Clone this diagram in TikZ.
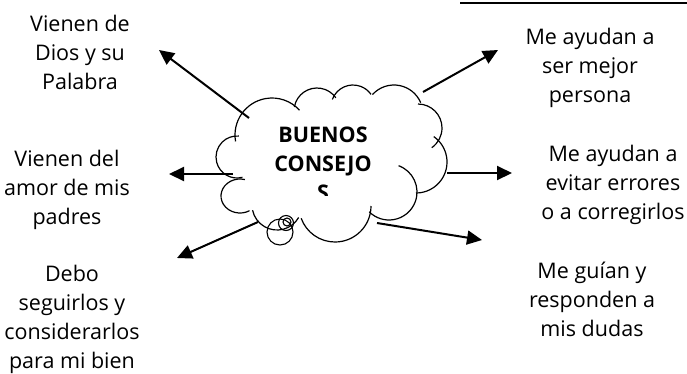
\documentclass[tikz,border=0pt]{standalone}
\usepackage{fontspec}
\setmainfont{Open Sans}
\usetikzlibrary{arrows.meta}
\begin{document}
\begin{tikzpicture}[x=1pt,y=-1pt,
  lbl/.style={align=center,inner sep=0pt,font=\fontsize{21.5}{29}\selectfont},
  arr/.style={line width=2pt,-{Triangle[length=15pt,width=14pt]}},
  puff/.style={line width=1.2pt}]
\useasboundingbox (0,0) rectangle (687,373);
% top rule
\coordinate (r1) at (460,3);
\coordinate (r2) at (687,3);
\draw[line width=2.5pt] (r1) -- (r2);
% cloud bumps
\draw[puff] (272,135) ++(170:37) arc[start angle=170,end angle=318,radius=37];
\draw[puff] (317,111) ++(190:23) arc[start angle=190,end angle=325,radius=23];
\draw[puff] (353,107) ++(200:22) arc[start angle=200,end angle=325,radius=22];
\draw[puff] (394,114) ++(222:29) arc[start angle=222,end angle=337,radius=29];
\draw[puff] (418,128) ++(270:24) arc[start angle=270,end angle=415,radius=24];
\draw[puff] (416,162) ++(-55:31) arc[start angle=-55,end angle=90,radius=31];
\draw[puff] (389,192) ++(-70:28) arc[start angle=-70,end angle=135,radius=28];
\draw[puff] (335,206) ++(0:36) arc[start angle=0,end angle=160,radius=36];
\draw[puff] (277,205) ++(30:25) arc[start angle=30,end angle=168,radius=25];
\draw[puff] (240,196) ++(60:19 and 17) arc[start angle=60,end angle=285,x radius=19,y radius=17];
\draw[puff] (237,157) ++(75:21) arc[start angle=75,end angle=275,radius=21];
% callout circles
\node[draw,circle,line width=1.1pt,minimum size=26pt,inner sep=0pt] (c1) at (280,232) {};
\node[draw,circle,line width=1.1pt,minimum size=15pt,inner sep=0pt] (c2) at (286,223) {};
\node[draw,circle,line width=1.1pt,minimum size=8pt,inner sep=0pt] (c3) at (287,222) {};
% cloud text
\begin{scope}
\clip (250,100) rectangle (400,195);
\node[lbl,font=\fontsize{21.5}{29}\selectfont\bfseries] (cloud) at (323,164) {BUENOS\\CONSEJO\\S};
\end{scope}
% labels
\node[lbl] (t1) at (80,52) {Vienen de\\Dios y su\\Palabra};
\node[lbl] (t2) at (67,190) {Vienen del\\amor de mis\\padres};
\node[lbl] (t3) at (72,319) {Debo\\seguirlos y\\considerarlos\\para mi bien};
\node[lbl] (t4) at (590,68) {Me ayudan a\\ser mejor\\persona};
\node[lbl] (t5) at (613,185) {Me ayudan a\\evitar errores\\o a corregirlos};
\node[lbl] (t6) at (592,299) {Me guían y\\responden a\\mis dudas};
% arrow ends
\coordinate (s1) at (249,118); \coordinate (e1) at (159,50);
\coordinate (s2) at (423,92);  \coordinate (e2) at (498,50);
\coordinate (s3) at (233,174); \coordinate (e3) at (169,174);
\coordinate (s4) at (447,173); \coordinate (e4) at (512,173);
\coordinate (s5) at (258,222); \coordinate (e5) at (177,258);
\coordinate (s6) at (377,223); \coordinate (e6) at (482,240);
\draw[arr] (s1) -- (e1);
\draw[arr] (s2) -- (e2);
\draw[arr] (s3) -- (e3);
\draw[arr] (s4) -- (e4);
\draw[arr] (s5) -- (e5);
\draw[arr] (s6) -- (e6);
\end{tikzpicture}
\end{document}
